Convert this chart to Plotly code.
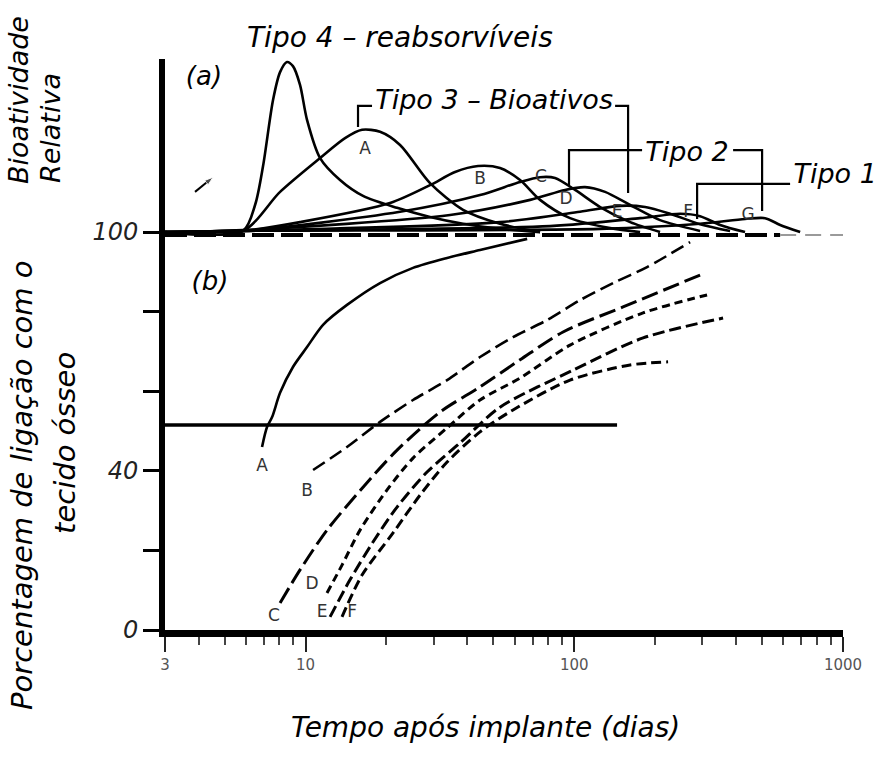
import numpy as np
import plotly.graph_objects as go

FONT = "DejaVu Sans"

# ---------------- (a) relative bioactivity vs. time after implant ----------------
tipo4_days = [3, 5.85, 6.49, 6.95, 7.57, 8.04, 8.53, 8.98, 9.54, 10.13, 11.33, 13.44, 16.37, 21.91, 29.06, 38.57, 52.94, 74.61]
tipo4_vals = [100, 100.3, 106.8, 116.6, 133.2, 140.2, 142.75, 141.7, 137.0, 128.2, 118.6, 113.1, 109.1, 106.1, 103.8, 102.1, 100.8, 100]

a_days = [3, 5.85, 8.04, 11.33, 14.03, 16.23, 18.94, 22.48, 29.06, 38.57, 52.94, 74.61]
a_vals = [100, 100.3, 110.1, 118.6, 123.6, 125.7, 125.2, 121.9, 112.3, 105.6, 102.1, 100]

b_days = [3, 5.85, 9.54, 20.63, 29.06, 36.01, 43.86, 52.94, 62.85, 74.61, 96.47, 135.9, 175.8]
b_vals = [100, 100.3, 102.5, 107.3, 111.8, 115.1, 116.6, 116.1, 113.1, 108.1, 103.5, 101.0, 100]

c_days = [3, 5.85, 22.48, 44.61, 62.85, 74.61, 84.8, 100.7, 124.8, 161.4, 208.6]
c_vals = [100, 100.3, 105.1, 109.3, 112.6, 113.8, 113.6, 110.6, 106.3, 102.5, 100]

d_days = [3, 5.85, 34.5, 68.49, 92.41, 109.7, 130.2, 161.4, 208.6, 293.9]
d_vals = [100, 100.5, 104.3, 108.1, 110.6, 111.3, 110.1, 106.8, 103.0, 100.3]

e_days = [3, 5.85, 52.94, 105.1, 148.1, 183.5, 227.3, 293.9, 379.9]
e_vals = [100, 100.3, 102.5, 105.1, 106.6, 106.3, 104.6, 102.0, 100.3]

f_days = [3, 5.85, 81.27, 175.8, 247.6, 293.9, 349.0, 432.0]
f_vals = [100, 100.3, 101.5, 103.5, 104.6, 104.0, 101.8, 100]

g_days = [3, 5.85, 124.8, 293.9, 432.0, 513.0, 583.6, 692.7]
g_vals = [100, 100.3, 100.8, 102.1, 103.3, 103.5, 101.8, 100]

baseline_days = [3, 583.6]
baseline_tail_days = [583.6, 1000]
baseline_val = 99.3

# curve letters in (a)
a_lbl_text = ["A", "B", "C", "D", "E", "F", "G"]
a_lbl_days = [16.65, 44.61, 75.2, 93.2, 144.3, 265.2, 443.5]
a_lbl_vals = [120.6, 113.1, 113.6, 108.1, 104.8, 104.8, 104.0]

# group brackets (days, value)
tipo3_left_days = [15.68, 15.68, 17.68]
tipo3_left_vals = [126.4, 131.7, 131.7]
tipo3_right_days = [141.9, 158.6, 158.6]
tipo3_right_vals = [131.7, 131.7, 109.8]
tipo2_left_days = [95.6, 95.6, 178.8]
tipo2_left_vals = [111.8, 120.6, 120.6]
tipo2_right_days = [390.0, 500.0, 500.0]
tipo2_right_vals = [120.6, 120.6, 105.3]
tipo1_days = [286.5, 286.5, 635.5]
tipo1_vals = [103.3, 112.1, 112.1]

group_text = ["Tipo 3 – Bioativos", "Tipo 2", "Tipo 1"]
group_days = [50.3, 262.8, 934.7]
group_vals = [132.7, 119.6, 114.1]
tipo4_text = "Tipo 4 – reabsorvíveis"
tipo4_day = 22.48

arrow_days = [3.88, 4.53]
arrow_vals = [110.1, 113.8]

# ---------------- (b) percentage of bonding with bone tissue ----------------
level_days = [3, 144.3]
level_vals = [51.5, 51.5]

bA_days = [6.89, 7.19, 7.51, 8.04, 8.98, 10.13, 11.62, 14.27, 18.94, 25.12, 33.64, 44.61, 66.8]
bA_vals = [46.0, 51.0, 53.5, 59.6, 66.1, 71.1, 76.7, 81.7, 87.2, 91.0, 93.5, 95.5, 98.3]

bB_days = [10.67, 14.27, 18.94, 25.12, 33.64, 44.61, 59.18, 79.23, 105.1, 139.5, 186.6, 269.8]
bB_vals = [40.2, 46.0, 52.3, 57.8, 62.8, 68.6, 73.6, 77.9, 82.9, 87.2, 91.2, 97.5]

bC_days = [8.04, 9.54, 12.02, 16.37, 21.91, 31.69, 44.61, 62.85, 90.84, 151.9, 293.9]
bC_vals = [6.8, 15.1, 25.1, 35.9, 45.2, 54.8, 61.1, 67.9, 74.9, 81.2, 89.2]

bD_days = [12.02, 13.67, 15.95, 20.11, 25.12, 33.64, 44.61, 62.85, 96.47, 180.4, 312.0]
bD_vals = [9.3, 16.3, 25.1, 35.2, 43.2, 50.8, 57.8, 63.3, 71.6, 79.7, 84.2]

bE_days = [12.34, 14.64, 17.83, 21.91, 28.33, 37.59, 52.94, 98.98, 180.4, 357.9]
bE_vals = [3.3, 12.6, 22.1, 30.9, 39.7, 47.0, 56.0, 65.3, 73.4, 78.4]

bF_days = [13.67, 16.23, 21.17, 26.68, 33.64, 44.61, 59.18, 96.47, 161.4, 223.4]
bF_vals = [3.3, 13.8, 24.4, 33.9, 42.2, 49.8, 55.3, 62.8, 66.6, 67.4]

b_lbl_text = ["A", "B", "C", "D", "E", "F"]
b_lbl_days = [6.89, 10.13, 7.63, 10.58, 11.52, 14.9]
b_lbl_vals = [41.0, 34.7, 3.3, 11.3, 4.3, 4.3]

panel_text = ["(a)", "(b)"]
panel_days = [4.19, 4.41]
panel_vals = [138.7, 87.2]

# axis ticks
x_tickvals = [3, 10, 100, 1000]
x_ticktext = ["3", "10", "100", "1000"]
x_minor = [4, 5, 6, 7, 8, 9, 20, 30, 40, 50, 60, 70, 80, 90, 200, 300, 400, 500, 600, 700, 800, 900]
y_tickvals = [0, 20, 40, 60, 80, 100]
y_ticktext = ["0", "", "40", "", "", "100"]

fig = go.Figure()


def curve(x, y, width=2.6, dash=None, color="black", smooth=0.8):
    fig.add_trace(go.Scatter(
        x=x, y=y, mode="lines",
        line=dict(color=color, width=width, dash=dash, shape="spline", smoothing=smooth),
        hoverinfo="skip", showlegend=False))


def poly(x, y, width=2.2):
    fig.add_trace(go.Scatter(
        x=x, y=y, mode="lines", line=dict(color="black", width=width),
        hoverinfo="skip", showlegend=False))


def labels(x, y, text, size, italic=False, color="black"):
    fig.add_trace(go.Scatter(
        x=x, y=y, mode="text", text=text, textposition="middle center",
        textfont=dict(family=FONT, size=size, color=color,
                      style="italic" if italic else "normal"),
        cliponaxis=False, hoverinfo="skip", showlegend=False))


# (a) dashed reference level and bioactivity peaks
curve(baseline_days, [baseline_val] * 2, width=4, dash="22px,7px", smooth=0)
curve(baseline_tail_days, [baseline_val] * 2, width=2, dash="16px,9px", color="#9a9a9a", smooth=0)
for xs, ys in [(tipo4_days, tipo4_vals), (a_days, a_vals), (b_days, b_vals), (c_days, c_vals),
               (d_days, d_vals), (e_days, e_vals), (f_days, f_vals), (g_days, g_vals)]:
    curve(xs, ys, width=2.6)

for xs, ys in [(tipo3_left_days, tipo3_left_vals), (tipo3_right_days, tipo3_right_vals),
               (tipo2_left_days, tipo2_left_vals), (tipo2_right_days, tipo2_right_vals),
               (tipo1_days, tipo1_vals)]:
    poly(xs, ys)

labels(group_days, group_vals, group_text, 27, italic=True)
labels(a_lbl_days, a_lbl_vals, a_lbl_text, 17, color="#333")

# heading above the plotting area: x on the log axis (log10 units), y in paper units
fig.add_annotation(text=tipo4_text, x=np.log10(tipo4_day), y=1.0368,
                   xref="x", yref="paper", showarrow=False,
                   font=dict(family=FONT, size=28, color="black", style="italic"),
                   xanchor="center", yanchor="middle")

fig.add_trace(go.Scatter(
    x=arrow_days, y=arrow_vals, mode="lines+markers",
    line=dict(color="black", width=2),
    marker=dict(symbol="arrow", angleref="previous", size=[0, 9], color="black"),
    hoverinfo="skip", showlegend=False))

# (b) bonding curves
poly(level_days, level_vals, width=3.5)
curve(bA_days, bA_vals, width=2.6)
curve(bB_days, bB_vals, width=2.6, dash="14px,6px")
curve(bC_days, bC_vals, width=3, dash="17px,6px")
curve(bD_days, bD_vals, width=3, dash="8px,5px")
curve(bE_days, bE_vals, width=3, dash="12px,5px")
curve(bF_days, bF_vals, width=3, dash="10px,5px")
labels(b_lbl_days, b_lbl_vals, b_lbl_text, 17, color="#333")

labels(panel_days, panel_vals, panel_text, 26, italic=True)

# axis titles
ttl = dict(family=FONT, size=28, color="black", style="italic")
fig.add_annotation(text="Tempo após implante (dias)", xref="paper", yref="paper",
                   x=0.472, y=-0.1716, showarrow=False, font=ttl,
                   xanchor="center", yanchor="middle")
for txt, px, py, sz in [("Bioatividade", -0.2168, 0.928, 27),
                        ("Relativa", -0.1696, 0.879, 27),
                        ("Porcentagem de ligação com o", -0.2109, 0.254, 29),
                        ("tecido ósseo", -0.1475, 0.3275, 29)]:
    fig.add_annotation(text=txt, xref="paper", yref="paper", x=px, y=py,
                       textangle=-90, showarrow=False,
                       font=dict(family=FONT, size=sz, color="black", style="italic"),
                       xanchor="center", yanchor="middle")

fig.update_layout(
    width=878, height=760,
    margin=dict(l=165, r=35, t=59, b=130),
    paper_bgcolor="white", plot_bgcolor="white",
    xaxis=dict(type="log", range=[np.log10(3), 3],
               showline=True, linecolor="black", linewidth=7,
               ticks="outside", tickvals=x_tickvals, ticktext=x_ticktext,
               ticklen=15, tickwidth=2, tickcolor="#222",
               tickfont=dict(family=FONT, size=15, color="#555"),
               minor=dict(tickvals=x_minor, ticks="outside", ticklen=8,
                          tickwidth=2, tickcolor="#444", showgrid=False),
               showgrid=False, zeroline=False),
    yaxis=dict(range=[0, 143.5],
               showline=True, linecolor="black", linewidth=6,
               ticks="outside", tickvals=y_tickvals, ticktext=y_ticktext,
               ticklen=16, tickwidth=3, tickcolor="black",
               tickfont=dict(family=FONT, size=24, color="#222", style="italic"),
               showgrid=False, zeroline=False),
)

fig.write_html("out.html")
